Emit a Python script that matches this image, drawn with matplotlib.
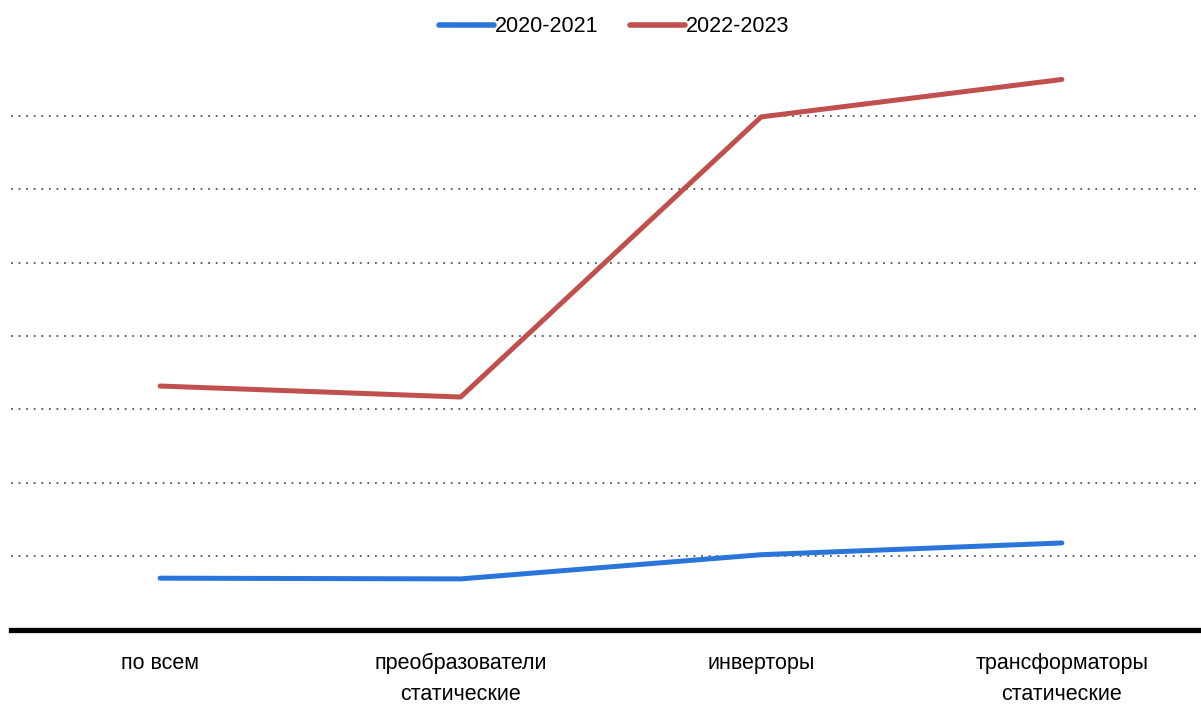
import matplotlib.pyplot as plt
from matplotlib.lines import Line2D

plt.rcParams['font.family'] = ['Liberation Sans', 'DejaVu Sans']

categories = ["по всем", "преобразователи\nстатические", "инверторы", "трансформаторы\nстатические"]
series_names = ["2020-2021", "2022-2023"]
values_2020_2021 = [0.70, 0.69, 1.02, 1.18]
values_2022_2023 = [3.32, 3.17, 6.99, 7.50]

blue = "#2A75DA"
red = "#C0504D"

fig = plt.figure(figsize=(12.01, 7.04), dpi=100)
W, H = 1201, 704
# plot area in pixel terms: left 11, right edge of figure, baseline at 629.5, top at ~43
ax = fig.add_axes([11 / W, (H - 629.5) / H, (W - 11) / W, (629.5 - 42.8) / H])

x = range(len(categories))
ax.plot(x, values_2020_2021, color=blue, lw=3.6, solid_capstyle='round', solid_joinstyle='round', zorder=3)
ax.plot(x, values_2022_2023, color=red, lw=3.6, solid_capstyle='round', solid_joinstyle='round', zorder=3)

ax.set_xlim(-0.496, 3.463)
ax.set_ylim(0, 8)

for y in range(1, 8):
    ax.axhline(y, color="#555555", lw=1.3, linestyle=(0, (1, 3.2)), zorder=1)
ax.axhline(0, color="black", lw=3.8, zorder=2, clip_on=False)

for s in ax.spines.values():
    s.set_visible(False)
ax.set_yticks([])
ax.set_xticks(list(x))
ax.set_xticklabels(categories, fontsize=15.5, linespacing=1.6)
ax.tick_params(axis='x', length=0, pad=17)

handles = [Line2D([], [], color=blue, lw=4, solid_capstyle='round'),
           Line2D([], [], color=red, lw=4, solid_capstyle='round')]
fig.legend(handles, series_names, loc='center', bbox_to_anchor=(614 / W, 1 - 27 / H),
           ncol=2, frameon=False, fontsize=15.5, handlelength=2.55, handletextpad=0.05,
           columnspacing=1.45)

fig.savefig("out.png", dpi=100)
